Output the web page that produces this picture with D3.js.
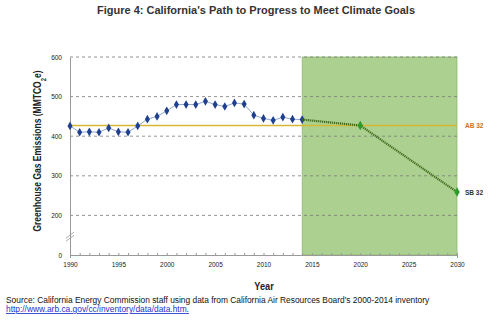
<!DOCTYPE html>
<html>
<head>
<meta charset="utf-8">
<script src="https://cdn.jsdelivr.net/npm/d3@7"></script>
<style>
  body { margin: 0; background: #fff; }
  text { font-family: "Liberation Sans", Arial, sans-serif; }
</style>
</head>
<body>
<script>
// chart data
var years = [1990,1991,1992,1993,1994,1995,1996,1997,1998,1999,2000,2001,2002,2003,2004,2005,2006,2007,2008,2009,2010,2011,2012,2013,2014];
var emissions = [426,410,411,410,421,411,410,426,443,450,464,480,480,480,488,480,475,484,481,453,445,440,448,443,442];
var pathYears = [2014, 2020, 2030];
var pathValues = [442, 427, 259];
var ab32 = 427;
var yTicks = [100, 200, 300, 400, 500, 600];
var yTickLabels = ["0", "200", "300", "400", "500", "600"];
var xTicks = [1990, 1995, 2000, 2005, 2010, 2015, 2020, 2025, 2030];

var width = 498, height = 332;

var x = d3.scaleLinear().domain([1990, 2030]).range([70, 457]);
// broken axis: bottom position stands for 0
var y = d3.scaleLinear().domain([100, 600]).range([255, 57]);

var svg = d3.select("body").append("svg")
  .attr("width", width)
  .attr("height", height);

// title
svg.append("text")
  .attr("x", 256).attr("y", 14)
  .attr("text-anchor", "middle")
  .style("font-size", "11px")
  .style("font-weight", "bold")
  .style("fill", "#333")
  .text("Figure 4: California's Path to Progress to Meet Climate Goals");

// green projection band
svg.append("rect")
  .attr("x", x(2014)).attr("y", y(600))
  .attr("width", x(2030) - x(2014))
  .attr("height", y(100) - y(600))
  .attr("fill", "#abd08f")
  .attr("stroke", "#8dbb6c")
  .attr("stroke-width", 0.8);

// grid lines
svg.append("g").selectAll("line")
  .data(yTicks.slice(1))
  .join("line")
  .attr("x1", x(1990)).attr("x2", x(2030))
  .attr("y1", d => y(d)).attr("y2", d => y(d))
  .attr("stroke", "#7a7a7a")
  .attr("stroke-width", 0.8)
  .attr("stroke-dasharray", "3,3");

// y axis
var yAxis = svg.append("g")
  .attr("transform", `translate(${x(1990)},0)`)
  .call(d3.axisLeft(y).tickValues(yTicks).tickSize(0).tickPadding(8)
    .tickFormat((d, i) => yTickLabels[i]));
yAxis.select(".domain").attr("stroke", "#999");
yAxis.selectAll("text").style("font-size", "6.5px").attr("fill", "#222");

// axis break marks
[0, 3].forEach(function(off) {
  svg.append("line")
    .attr("x1", x(1990) - 4).attr("y1", y(150) + 3 + off)
    .attr("x2", x(1990) + 4).attr("y2", y(150) - 3 + off)
    .attr("stroke", "#999").attr("stroke-width", 0.8);
});

// x axis
var xAxis = svg.append("g")
  .attr("transform", `translate(0,${y(100)})`)
  .call(d3.axisBottom(x).tickValues(d3.range(1990, 2031)).tickSize(3)
    .tickFormat(d => xTicks.includes(d) ? d : ""));
xAxis.select(".domain").attr("stroke", "#999");
xAxis.selectAll("line").attr("stroke", "#999").attr("transform", "translate(0,-2)");
xAxis.selectAll("text").style("font-size", "6.5px").attr("fill", "#222").attr("dy", "0.9em");

// AB 32 level
svg.append("line")
  .attr("x1", x(1990)).attr("x2", x(2030))
  .attr("y1", y(ab32)).attr("y2", y(ab32))
  .attr("stroke", "#d6b632")
  .attr("stroke-width", 1.6);

svg.append("text")
  .attr("x", x(2030) + 8).attr("y", y(ab32) + 2.5)
  .style("font-size", "6.5px").style("font-weight", "bold")
  .attr("fill", "#c8741e")
  .text("AB 32");

// historical series
var line = d3.line().x((d, i) => x(years[i])).y(d => y(d));
svg.append("path")
  .attr("d", line(emissions))
  .attr("fill", "none")
  .attr("stroke", "#8fa7cf")
  .attr("stroke-width", 1);

var diamond = d3.symbol().type(d3.symbolDiamond).size(22);
svg.append("g").selectAll("path")
  .data(emissions)
  .join("path")
  .attr("d", diamond)
  .attr("transform", (d, i) => `translate(${x(years[i])},${y(d)})`)
  .attr("fill", "#1f3f8f");

// path to 2030
var pline = d3.line().x((d, i) => x(pathYears[i])).y(d => y(d));
svg.append("path")
  .attr("d", pline(pathValues))
  .attr("fill", "none")
  .attr("stroke", "#3f6a1c")
  .attr("stroke-width", 2.2)
  .attr("stroke-dasharray", "1.2,0.8");

svg.append("g").selectAll("path")
  .data(pathValues.slice(1))
  .join("path")
  .attr("d", d3.symbol().type(d3.symbolDiamond).size(26))
  .attr("transform", (d, i) => `translate(${x(pathYears[i + 1])},${y(d)})`)
  .attr("fill", "#2e9a2a");

svg.append("text")
  .attr("x", x(2030) + 8).attr("y", y(259) + 3)
  .style("font-size", "6.5px").style("font-weight", "bold")
  .attr("fill", "#333")
  .text("SB 32");

// axis titles (condensed to look like a narrow face)
var yt = svg.append("text")
  .attr("transform", "translate(41,151)rotate(-90)scale(0.74,1)")
  .attr("text-anchor", "middle")
  .style("font-size", "11.5px")
  .style("font-weight", "bold")
  .attr("fill", "#222");
yt.append("tspan").text("Greenhouse Gas Emissions (MMTCO");
yt.append("tspan").attr("baseline-shift", "sub").style("font-size", "8px").text("2");
yt.append("tspan").text("e)");

svg.append("text")
  .attr("transform", "translate(264,290)scale(0.8,1)")
  .attr("text-anchor", "middle")
  .style("font-size", "11.5px")
  .style("font-weight", "bold")
  .attr("fill", "#222")
  .text("Year");

// source
svg.append("text")
  .attr("x", 6).attr("y", 303)
  .style("font-size", "8.4px")
  .attr("fill", "#111")
  .text("Source: California Energy Commission staff using data from California Air Resources Board's 2000-2014 inventory");

svg.append("text")
  .attr("x", 6).attr("y", 312)
  .style("font-size", "8.4px")
  .style("text-decoration", "underline")
  .attr("fill", "#1a33c8")
  .text("http://www.arb.ca.gov/cc/inventory/data/data.htm.");
</script>
</body>
</html>
